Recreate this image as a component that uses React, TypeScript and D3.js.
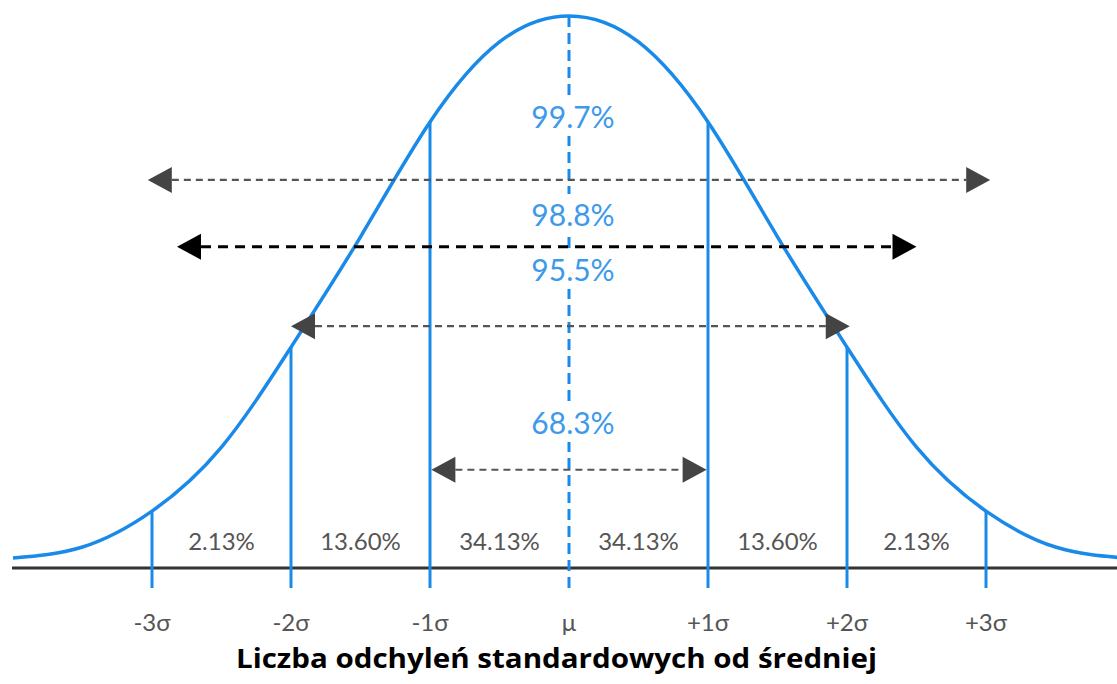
import { useRef, useEffect } from "react";
import * as d3 from "d3";

// curve: height relative to the peak, at sigma steps of 0.5
const curveZ = [-4, -3.5, -3, -2.5, -2, -1.5, -1, -0.5, 0, 0.5, 1, 1.5, 2, 2.5, 3, 3.5, 4];
const curveH = [0.018, 0.038, 0.103, 0.219, 0.4, 0.6, 0.808, 0.953, 1, 0.953, 0.808, 0.6, 0.4, 0.219, 0.103, 0.038, 0.018];

const sigmaTicks = [-3, -2, -1, 0, 1, 2, 3];
const tickLabels = ["-3σ", "-2σ", "-1σ", "μ", "+1σ", "+2σ", "+3σ"];
const bandLabels = ["2.13%", "13.60%", "34.13%", "34.13%", "13.60%", "2.13%"];

// arrows: label, left tip, right tip (sigma), level (relative height)
const arrowLabels = ["99.7%", "98.8%", "95.5%", "68.3%"];
const arrowFrom = [-3.03, -2.82, -2.0, -0.99];
const arrowTo = [3.03, 2.5, 2.02, 0.99];
const arrowLevel = [0.703, 0.582, 0.438, 0.178];

const title = "Liczba odchyleń standardowych od średniej";

function App() {
  const ref = useRef(null);

  useEffect(() => {
    document.body.style.margin = "0";
    const svg = d3.select(ref.current);
    svg.selectAll("*").remove();

    const blue = "#1a8ae9";
    const x = d3.scaleLinear().domain([-3, 3]).range([152, 986]);
    const y = d3.scaleLinear().domain([0, 1]).range([568, 16]);
    const lineBottom = y(0) + 20;

    // baseline
    svg.append("line")
      .attr("x1", 12).attr("x2", 1117)
      .attr("y1", y(0)).attr("y2", y(0))
      .attr("stroke", "#333").attr("stroke-width", 3);

    // sigma lines
    const heightAt = (z) => curveH[curveZ.indexOf(z)];
    sigmaTicks.filter((d) => d !== 0).forEach((d) => {
      svg.append("line")
        .attr("x1", x(d)).attr("x2", x(d))
        .attr("y1", y(heightAt(d))).attr("y2", lineBottom)
        .attr("stroke", blue).attr("stroke-width", 3);
    });

    // mean line
    svg.append("line")
      .attr("x1", x(0)).attr("x2", x(0))
      .attr("y1", y(1)).attr("y2", lineBottom)
      .attr("stroke", blue).attr("stroke-width", 3)
      .attr("stroke-dasharray", "11,6");

    // curve
    const line = d3.line()
      .x((d, i) => x(curveZ[i]))
      .y((d) => y(d))
      .curve(d3.curveNatural);
    svg.append("path")
      .attr("d", line(curveH))
      .attr("fill", "none")
      .attr("stroke", blue)
      .attr("stroke-width", 3.5);

    // blue percentage labels, on white patches that hide the mean line
    const labelBase = [128, 226, 281, 434];
    const lg = svg.append("g");
    arrowLabels.forEach((lab, i) => {
      const bg = lg.append("rect").attr("fill", "#fff");
      const t = lg.append("text")
        .attr("x", x(0) + 4)
        .attr("y", labelBase[i])
        .attr("text-anchor", "middle")
        .attr("font-family", "Lato, 'Open Sans', sans-serif")
        .attr("font-size", 30)
        .attr("fill", "#3d9aea")
        .text(lab);
      const b = t.node().getBBox();
      bg.attr("x", b.x - 4).attr("y", b.y - 2)
        .attr("width", b.width + 8).attr("height", b.height + 4);
    });

    // arrows
    arrowLabels.forEach((lab, i) => {
      const black = i === 1;
      const col = black ? "#000" : "#444";
      const yy = y(arrowLevel[i]);
      const x1 = x(arrowFrom[i]);
      const x2 = x(arrowTo[i]);
      const head = 24;
      svg.append("line")
        .attr("x1", x1 + head).attr("x2", x2 - head)
        .attr("y1", yy).attr("y2", yy)
        .attr("stroke", black ? "#000" : "#555")
        .attr("stroke-width", black ? 3 : 2.2)
        .attr("stroke-dasharray", black ? "10,7" : "7,5");
      svg.append("path")
        .attr("d", `M${x1},${yy}L${x1 + head},${yy - 13}L${x1 + head},${yy + 13}Z`)
        .attr("fill", col);
      svg.append("path")
        .attr("d", `M${x2},${yy}L${x2 - head},${yy - 13}L${x2 - head},${yy + 13}Z`)
        .attr("fill", col);
    });

    // band labels
    svg.selectAll(".band")
      .data(bandLabels)
      .enter().append("text")
      .attr("x", (d, i) => (x(sigmaTicks[i]) + x(sigmaTicks[i + 1])) / 2)
      .attr("y", 550)
      .attr("text-anchor", "middle")
      .attr("font-family", "Lato, 'Open Sans', sans-serif")
      .attr("font-size", 24)
      .attr("fill", "#555")
      .text((d) => d);

    // tick labels
    svg.selectAll(".tick")
      .data(tickLabels)
      .enter().append("text")
      .attr("x", (d, i) => x(sigmaTicks[i]))
      .attr("y", 631)
      .attr("text-anchor", "middle")
      .attr("font-family", "Lato, 'DejaVu Sans', sans-serif")
      .attr("font-size", 24)
      .attr("fill", "#555")
      .text((d) => d);

    // title
    svg.append("text")
      .attr("x", 236)
      .attr("y", 668)
      .attr("font-family", "'Open Sans', sans-serif")
      .attr("font-weight", 700)
      .attr("font-size", 26)
      .attr("textLength", 641)
      .attr("lengthAdjust", "spacingAndGlyphs")
      .attr("fill", "#000")
      .text(title);
  }, []);

  return <svg ref={ref} width="1117" height="684" style={{ display: "block", background: "#fff" }} />;
}

export default App;
